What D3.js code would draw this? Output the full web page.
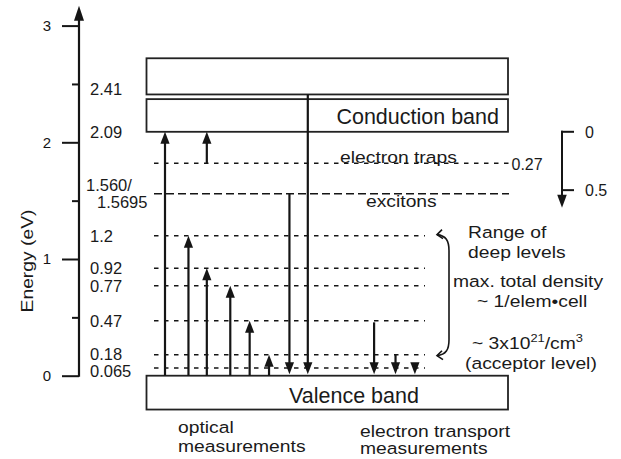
<!DOCTYPE html>
<html><head><meta charset="utf-8">
<script src="https://cdn.jsdelivr.net/npm/d3@7/dist/d3.min.js"></script>
<style>
body{margin:0;background:#fff}
svg{display:block;font-family:"Liberation Sans",Arial,Helvetica,sans-serif;fill:#1a1a1a}
</style></head><body>
<svg id="chart" width="621" height="459"></svg>
<script>
// Energy axis ticks (eV)
const majorTicks = [0, 1, 2, 3];
const minorTicks = [0.5, 1.5, 2.5];

// Band boxes: lower and upper edges in eV
const bandNames = ["Valence band", "Conduction band", ""];
const bandLow   = [-0.29, 2.09, 2.41];
const bandHigh  = [0, 2.37, 2.72];

// Level energies labelled on the left of the diagram
const levelLabelText  = ["2.41", "2.09", "1.560/|1.5695", "1.2", "0.92", "0.77", "0.47", "0.18", "0.065"];
const levelLabelValue = [2.41, 2.09, 1.5648, 1.2, 0.92, 0.77, 0.47, 0.18, 0.065];

// Dashed levels inside the gap
const gapLevels = [1.82, 1.56, 1.2, 0.92, 0.77, 0.47, 0.18, 0.065];
const gapKinds  = ["trap", "exciton", "deep", "deep", "deep", "deep", "deep", "deep"];

// Transitions: start energy, end energy, column
const transFrom = [0, 1.82, 0, 0, 0, 0, 0, 1.56, 2.41, 0.47, 0.18, 0.065];
const transTo   = [2.09, 2.09, 1.2, 0.92, 0.77, 0.47, 0.18, 0, 0, 0, 0, 0];
const transCol  = [0, 2.05, 1.15, 2.05, 3.2, 4.15, 5.1, 6.1, 7, 10.25, 11.3, 12.25];

// Depth scale below the conduction band edge
const depthTicks = [0, 0.5];
const depthArrow = 0.65;
const cbEdge = 2.09;
const trapDepth = 0.27;

const svg = d3.select("#chart");
const ink = "#151515";

const y = d3.scaleLinear().domain([0, 3]).range([375.7, 25.6]);
const col = d3.scaleLinear().domain([0, 1]).range([165, 185.4]);
const axisX = 79;
const boxL = 146.5, boxR = 508;
const sx = 1.17; // horizontal stretch of annotation lettering

function label(x, yy, str, size, anchor, stretch) {
  const t = svg.append("text")
    .attr("transform", `translate(${x},${yy}) scale(${stretch || 1},1)`)
    .attr("font-size", size)
    .attr("text-anchor", anchor || "start")
    .text(str);
  return t;
}

function arrowHead(x, tipY, dir, len, half) {
  // dir = -1 points up, +1 points down
  const b = tipY - dir * len;
  svg.append("path")
    .attr("d", `M${x},${tipY} L${x - half},${b} L${x + half},${b} Z`)
    .attr("fill", ink).attr("stroke", "none");
}

// ---- Energy axis ----
const axMajor = d3.axisLeft(y).tickValues(majorTicks).tickSize(17).tickPadding(11).tickSizeOuter(0)
  .tickFormat(d3.format("d"));
const gA = svg.append("g").attr("transform", `translate(${axisX},0)`).call(axMajor);
gA.select(".domain").remove();
gA.selectAll(".tick line").attr("stroke", ink).attr("stroke-width", 2);
gA.selectAll(".tick text").attr("font-size", 15).attr("font-family", "inherit").attr("fill", ink);
const axMinor = d3.axisLeft(y).tickValues(minorTicks).tickSize(7).tickFormat("").tickSizeOuter(0);
const gM = svg.append("g").attr("transform", `translate(${axisX},0)`).call(axMinor);
gM.select(".domain").remove();
gM.selectAll(".tick line").attr("stroke", ink).attr("stroke-width", 2);

svg.append("line").attr("x1", axisX).attr("x2", axisX)
  .attr("y1", y(0) + 1).attr("y2", y(3.12))
  .attr("stroke", ink).attr("stroke-width", 2.2);
arrowHead(axisX, y(3.17), -1, 15, 5);

svg.append("text")
  .attr("transform", `translate(33,261) rotate(-90) scale(${sx},1)`)
  .attr("text-anchor", "middle").attr("font-size", 16.5).text("Energy (eV)");

// ---- Level labels ----
const labelNudge = { 2.41: -5, 0.18: -0.5, 0.065: 2.5 };
levelLabelText.forEach((s, i) => {
  const parts = s.split("|");
  const v = levelLabelValue[i];
  const yy = y(v);
  if (parts.length === 1) {
    label(90, yy + 6 + (labelNudge[v] || 0), parts[0], 16.5);
  } else {
    label(86, yy - 2, parts[0], 16.5);
    label(97, yy + 14.5, parts[1], 16.5);
  }
});

// ---- Dashed gap levels ----
const dashEnd = { trap: 509, exciton: 509, deep: 425 };
const dashPat = { trap: "4.5,5.5", exciton: "8,4", deep: "4.5,5.5" };
gapLevels.forEach((e, i) => {
  const k = gapKinds[i];
  svg.append("line")
    .attr("x1", 154).attr("x2", dashEnd[k])
    .attr("y1", y(e)).attr("y2", y(e))
    .attr("stroke", ink).attr("stroke-width", 1.5)
    .attr("stroke-dasharray", dashPat[k]);
});

// ---- Band boxes ----
bandNames.forEach((n, i) => {
  svg.append("rect")
    .attr("x", boxL).attr("width", boxR - boxL)
    .attr("y", y(bandHigh[i])).attr("height", y(bandLow[i]) - y(bandHigh[i]))
    .attr("fill", "#fff").attr("stroke", "#222").attr("stroke-width", 1.8);
});
label(499, 123.5, bandNames[1], 21.5, "end");
label(354, 403, bandNames[0], 21.5, "middle");

// ---- Transitions ----
const headLen = 12, headHalf = 4.6;
transFrom.forEach((f, i) => {
  const t = transTo[i];
  const x = col(transCol[i]);
  const up = t > f;
  const dir = up ? -1 : 1;
  const tipY = up ? y(t) : y(t) - 1.5;
  const startY = y(f) + (f === 0.47 ? 1.5 : 0);
  const baseY = tipY - dir * headLen;
  if ((up && startY > baseY) || (!up && startY < baseY)) {
    svg.append("line").attr("x1", x).attr("x2", x)
      .attr("y1", startY).attr("y2", baseY + dir * 1)
      .attr("stroke", ink).attr("stroke-width", 2.2);
  }
  arrowHead(x, tipY, dir, headLen, headHalf);
});

// ---- Gap annotations ----
label(340, y(1.82) - 0.5, "electron traps", 16.5, "start", sx);
label(511.5, y(1.82) + 7, String(trapDepth), 16, "start");
label(366, y(1.56) + 13.5, "excitons", 16.5, "start", sx);

// Bracket spanning the deep levels
const yT = y(1.2), yB = y(0.18);
const bx0 = 437, bx1 = 449;
svg.append("path")
  .attr("d", `M ${bx0} ${yT - 1} C ${bx1 - 3} ${yT} ${bx1} ${yT + 5} ${bx1} ${yT + 15} ` +
             `L ${bx1} ${yB - 15} C ${bx1} ${yB - 5} ${bx1 - 3} ${yB} ${bx0} ${yB + 1}`)
  .attr("fill", "none").attr("stroke", ink).attr("stroke-width", 1.6);
[yT - 1, yB + 1].forEach(py => {
  svg.append("path")
    .attr("d", `M ${bx0 + 5} ${py - 5} L ${bx0} ${py} L ${bx0 + 6} ${py + 4}`)
    .attr("fill", "none").attr("stroke", ink).attr("stroke-width", 1.6);
});

label(468, 238, "Range of", 16.5, "start", sx);
label(468, 258, "deep levels", 16.5, "start", sx);
label(453, 286.5, "max. total density", 16.5, "start", sx);
label(477, 306.5, "~ 1/elem\u2022cell", 16.5, "start", sx);
const dens = label(472, 349, "", 16.5, "start", sx);
dens.append("tspan").text("~ 3x10");
dens.append("tspan").attr("dy", -7).attr("font-size", 11).text("21");
dens.append("tspan").attr("dy", 7).text("/cm");
dens.append("tspan").attr("dy", -7).attr("font-size", 11).text("3");
label(465, 369, "(acceptor level)", 16.5, "start", sx);

// ---- Depth scale below the conduction band ----
const dX = 562;
svg.append("line").attr("x1", dX).attr("x2", dX)
  .attr("y1", y(cbEdge - depthTicks[0]) - 1).attr("y2", y(cbEdge - depthArrow) - 12)
  .attr("stroke", ink).attr("stroke-width", 2);
arrowHead(dX, y(cbEdge - depthArrow), 1, 13, 4.8);
depthTicks.forEach(d => {
  const yy = y(cbEdge - d);
  svg.append("line").attr("x1", dX - (d === 0 ? 1 : 0)).attr("x2", dX + 12)
    .attr("y1", yy).attr("y2", yy).attr("stroke", ink).attr("stroke-width", 2);
  label(585, yy + 6, String(d), 16, "start");
});

// ---- Measurement group captions ----
label(178, 433, "optical", 16.5, "start", sx);
label(178, 451.5, "measurements", 16.5, "start", sx);
label(360, 436.5, "electron transport", 16.5, "start", sx);
label(360, 453.5, "measurements", 16.5, "start", sx);
</script>
</body></html>
